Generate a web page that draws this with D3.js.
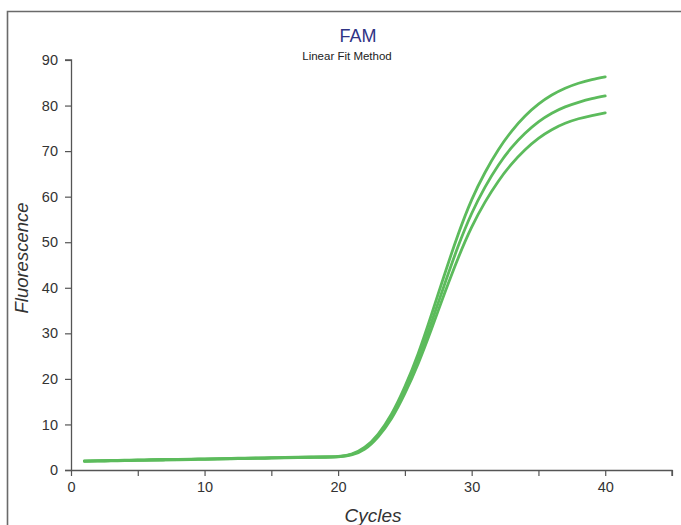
<!DOCTYPE html>
<html>
<head>
<meta charset="utf-8">
<script src="https://cdn.jsdelivr.net/npm/d3@7"></script>
<style>
  html, body { margin: 0; padding: 0; background: #fff; }
  svg { display: block; font-family: "Liberation Sans", Arial, sans-serif; }
</style>
</head>
<body>
<svg id="chart" width="681" height="525"></svg>
<script>
// ---- data ----
const cycles = d3.range(1, 41);
const seriesTop = [2.0, 2.05, 2.1, 2.15, 2.2, 2.25, 2.3, 2.35, 2.4, 2.45,
  2.5, 2.55, 2.6, 2.65, 2.7, 2.75, 2.8, 2.85, 2.9, 3.0,
  3.5, 5.0, 7.9, 12.3, 18.3, 25.6, 34.2, 43.2, 51.8, 59.3,
  65.3, 70.3, 74.4, 77.7, 80.3, 82.3, 83.8, 84.9, 85.7, 86.3];
const seriesMid = [1.95, 2.0, 2.05, 2.1, 2.15, 2.2, 2.25, 2.3, 2.35, 2.4,
  2.45, 2.5, 2.55, 2.6, 2.65, 2.7, 2.75, 2.8, 2.85, 2.95,
  3.4, 4.8, 7.6, 11.8, 17.5, 24.4, 32.5, 41.0, 49.2, 56.3,
  62.1, 66.9, 70.8, 73.9, 76.4, 78.3, 79.7, 80.7, 81.5, 82.1];
const seriesLow = [1.9, 1.95, 2.0, 2.05, 2.1, 2.15, 2.2, 2.25, 2.3, 2.35,
  2.4, 2.45, 2.5, 2.55, 2.6, 2.65, 2.7, 2.75, 2.8, 2.9,
  3.3, 4.6, 7.3, 11.3, 16.8, 23.4, 31.0, 39.0, 46.6, 53.3,
  58.8, 63.4, 67.2, 70.3, 72.8, 74.7, 76.1, 77.1, 77.8, 78.4];
const xTicks = [0, 5, 10, 15, 20, 25, 30, 35, 40, 45];
const xTickLabels = [0, 10, 20, 30, 40];
const yTicks = [0, 10, 20, 30, 40, 50, 60, 70, 80, 90];
const titleText = "FAM";
const subtitleText = "Linear Fit Method";
const xLabel = "Cycles";
const yLabel = "Fluorescence";

// ---- layout ----
const svg = d3.select("#chart");
const x = d3.scaleLinear().domain([0, 45]).range([71, 672]);
const y = d3.scaleLinear().domain([0, 90]).range([470, 60]);

// frame
svg.append("path")
  .attr("d", "M7.5,525 L7.5,11.5 L681,11.5")
  .attr("fill", "none").attr("stroke", "#6a6a6a").attr("stroke-width", 1.6);

// titles
svg.append("text").attr("x", 358).attr("y", 42).attr("text-anchor", "middle")
  .attr("font-size", 18).attr("fill", "#2f3485").text(titleText);
svg.append("text").attr("x", 347).attr("y", 60).attr("text-anchor", "middle")
  .attr("font-size", 11.5).attr("fill", "#222").text(subtitleText);

// axes
const axisColor = "#555";
const xAxis = svg.append("g").attr("transform", "translate(0,470)")
  .call(d3.axisBottom(x).tickValues(xTicks).tickSize(6)
    .tickFormat(d => xTickLabels.includes(d) ? d : ""));
xAxis.select(".domain").attr("d", `M65,0.5H${x(45)}V6`).attr("stroke", axisColor).attr("stroke-width", 1.3);
xAxis.selectAll(".tick line").attr("stroke", axisColor).attr("stroke-width", 1.2);
xAxis.selectAll(".tick text").attr("font-size", 14.5).attr("fill", "#333")
  .attr("font-family", "Liberation Sans, Arial, sans-serif").attr("dy", "0.9em");

const yAxis = svg.append("g").attr("transform", "translate(71,0)")
  .call(d3.axisLeft(y).tickValues(yTicks).tickSize(6));
yAxis.select(".domain").attr("d", `M0.5,${y(0)}V${y(90)}H-6`).attr("stroke", axisColor).attr("stroke-width", 1.3);
yAxis.selectAll(".tick line").attr("stroke", axisColor).attr("stroke-width", 1.2);
yAxis.selectAll(".tick text").attr("font-size", 14.5).attr("fill", "#333")
  .attr("font-family", "Liberation Sans, Arial, sans-serif").attr("x", -13);

// axis labels
svg.append("text").attr("x", 373).attr("y", 522).attr("text-anchor", "middle")
  .attr("font-size", 19).attr("font-style", "italic").attr("fill", "#333").text(xLabel);
svg.append("text").attr("transform", "translate(28,258) rotate(-90)")
  .attr("text-anchor", "middle").attr("font-size", 18.5).attr("font-style", "italic")
  .attr("fill", "#333").text(yLabel);

// curves
const line = d3.line().x((d, i) => x(cycles[i])).y(d => y(d)).curve(d3.curveNatural);
[seriesLow, seriesMid, seriesTop].forEach(s => {
  svg.append("path").datum(s).attr("d", line)
    .attr("fill", "none").attr("stroke", "#5cbb5c").attr("stroke-width", 2.8)
    .attr("stroke-linecap", "round");
});
</script>
</body>
</html>
